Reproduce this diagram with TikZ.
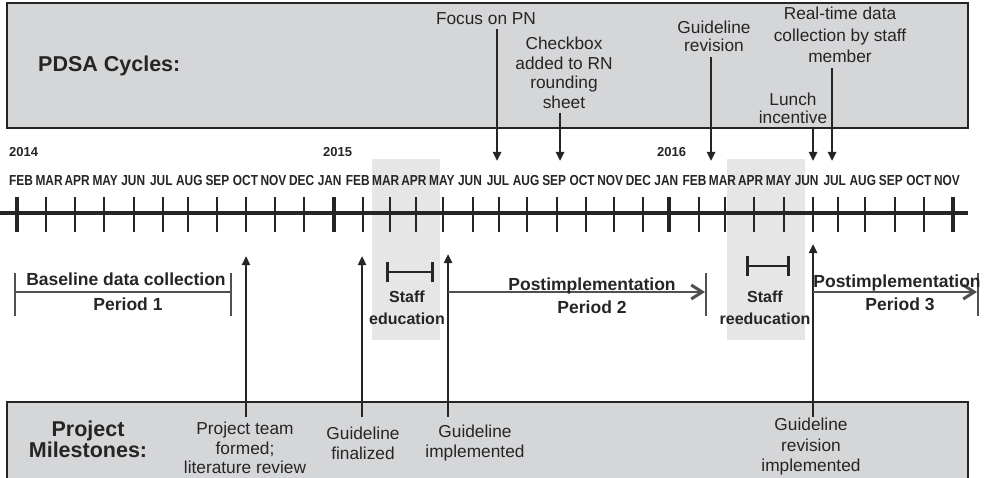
\documentclass[tikz,border=0pt]{standalone}
\usepackage{fontspec}
\setmainfont{Liberation Sans}
\newfontfamily\narrowsans[FakeStretch=0.82]{Liberation Sans}
\usepackage{tikz}
\usetikzlibrary{arrows.meta, calc, positioning}

\definecolor{panelgray}{RGB}{213,214,216}
\definecolor{shadegray}{RGB}{230,230,230}
\definecolor{ink}{RGB}{38,36,37}
\setlength{\lineskiplimit}{-100pt}

\begin{document}
\begin{tikzpicture}[x=1pt, y=-1pt, ink,
        panel/.style={draw=ink, line width=1.2pt, fill=panelgray},
        shade/.style={fill=shadegray},
        monthlbl/.style={font=\narrowsans\bfseries\fontsize{14.5}{14.5}\selectfont, anchor=base, inner sep=0pt},
        yearlbl/.style={font=\bfseries\fontsize{13}{13}\selectfont, anchor=base west, inner sep=0pt},
        headlbl/.style={font=\bfseries\fontsize{21.5}{21}\selectfont, align=center, inner sep=0pt},
        eventlbl/.style={font=\fontsize{17.3}{#1}\selectfont, align=center, anchor=north, inner sep=0pt},
        eventlbl/.default=19.5,
        periodlbl/.style={font=\bfseries\fontsize{17.5}{17.5}\selectfont, anchor=base, inner sep=0pt},
        stafflbl/.style={font=\bfseries\fontsize{16}{22}\selectfont, align=center, anchor=north, inner sep=0pt},
        eventarrow/.style={-{Triangle[length=9pt,width=8pt]}, line width=2.4pt},
        periodline/.style={line width=1.3pt, draw=ink!80},
        periodarrow/.style={periodline, -{Straight Barb[length=11pt,width=14pt,line width=3pt]}},
        staffbar/.style={{Bar[width=20pt]}-{Bar[width=20pt]}, line width=2.6pt}]
        \useasboundingbox (0,0) rectangle (984,478);

            \draw[panel] (7,3) rectangle (968,128);
            \draw[panel] (7,402) rectangle (968,490);
            \fill[shade] (372,159) rectangle (440,340);
            \fill[shade] (727,159) rectangle (805,340);

            \draw[line width=4pt] (0,213) -- (968,213);
            \foreach \x in {46,75,104,134,163,188,217,246,275,304,363,390,416,443,473,499,527,557,586,614,643,699,725,754,784,813,838,865,895,924}
                \draw[line width=2pt] (\x,197) -- (\x,232);
            \foreach \x in {17,334,669,953}
                \draw[line width=4pt] (\x,197) -- (\x,232);
            \foreach \m [count=\i from 0] in {FEB,MAR,APR,MAY,JUN,JUL,AUG,SEP,OCT,NOV,DEC,JAN,FEB,MAR,APR,MAY,JUN,JUL,AUG,SEP,OCT,NOV,DEC,JAN,FEB,MAR,APR,MAY,JUN,JUL,AUG,SEP,OCT,NOV}
                \node[monthlbl] (m\i) at ({21+28.06*\i},186) {\m};
            \node[yearlbl] (y2014) at (9,157) {2014};
            \node[yearlbl] (y2015) at (323,157) {2015};
            \node[yearlbl] (y2016) at (657,157) {2016};

            \node[headlbl, anchor=base west] (pdsa) at (38,72) {PDSA Cycles:};
            \node[headlbl, anchor=north] (milestones) at (88,421) {Project\\Milestones:};

            \node[eventlbl] (focus) at (486,12) {Focus on PN};
            \node[eventlbl] (checkbox) at (564,37) {Checkbox\\added to RN\\rounding\\sheet};
            \node[eventlbl=17.5] (revision) at (714,21) {Guideline\\revision};
            \node[eventlbl=17.5] (lunch) at (793,93) {Lunch\\incentive};
            \node[eventlbl=21.5] (realtime) at (840,7) {Real-time data\\collection by staff\\member};
            \coordinate (focustip) at (497,161);
            \coordinate (checkboxtip) at (560,161);
            \coordinate (revisiontip) at (711,161);
            \coordinate (lunchtip) at (813,161);
            \coordinate (realtimetip) at (832,161);
            \draw[eventarrow, shorten <=5pt] (focus.south -| focustip) -- (focustip);
            \draw[eventarrow, shorten <=4pt] (checkbox.south -| checkboxtip) -- (checkboxtip);
            \draw[eventarrow, shorten <=5pt] (revision.south -| revisiontip) -- (revisiontip);
            \draw[eventarrow, shorten <=3pt] (lunch.south -| lunchtip) -- (lunchtip);
            \draw[eventarrow, shorten <=5pt] (realtime.south -| realtimetip) -- (realtimetip);

            \node[eventlbl] (team) at (245,422) {Project team\\formed;\\literature review};
            \node[eventlbl] (finalized) at (363,427) {Guideline\\finalized};
            \node[eventlbl] (implemented) at (475,425) {Guideline\\implemented};
            \node[eventlbl=20.5] (revimpl) at (811,418) {Guideline\\revision\\implemented};
            \coordinate (teamtip) at (246,256);
            \coordinate (finalizedtip) at (362,256);
            \coordinate (implementedtip) at (448,254);
            \coordinate (revimpltip) at (813,244);
            \draw[eventarrow, shorten <=5pt] (team.north -| teamtip) -- (teamtip);
            \draw[eventarrow, shorten <=10pt] (finalized.north -| finalizedtip) -- (finalizedtip);
            \draw[eventarrow, shorten <=8pt] (implemented.north -| implementedtip) -- (implementedtip);
            \draw[eventarrow, shorten <=1pt] (revimpl.north -| revimpltip) -- (revimpltip);

            \coordinate (p1start) at (15,292);
            \coordinate (p1end) at (231,292);
            \coordinate (p2end) at (706,292);
            \coordinate (p3end) at (978,292);
            \draw[periodline] (p1start) -- (p1end);
            \draw[periodarrow] (implementedtip |- p2end) -- ($(p2end)+(-1,0)$);
            \draw[periodarrow] (revimpltip |- p3end) -- ($(p3end)+(-1,0)$);
            \foreach \p in {p1start,p1end,p2end,p3end}
                \draw[periodline] ($(\p)+(0,-19)$) -- ($(\p)+(0,24)$);
            \node[periodlbl] (baseline) at (126,285) {Baseline data collection};
            \node[periodlbl] (period1) at (128,310) {Period 1};
            \node[periodlbl] (post2) at (592,290) {Postimplementation};
            \node[periodlbl] (period2) at (592,313) {Period 2};
            \node[periodlbl] (post3) at (897,287) {Postimplementation};
            \node[periodlbl] (period3) at (900,310) {Period 3};

            \draw[staffbar] (386,272) -- (434,272);
            \draw[staffbar] (746,266) -- (790,266);
            \node[stafflbl] (education) at (407,291) {Staff\\education};
            \node[stafflbl] (reeducation) at (765,291) {Staff\\reeducation};
        \end{tikzpicture}
\end{document}
